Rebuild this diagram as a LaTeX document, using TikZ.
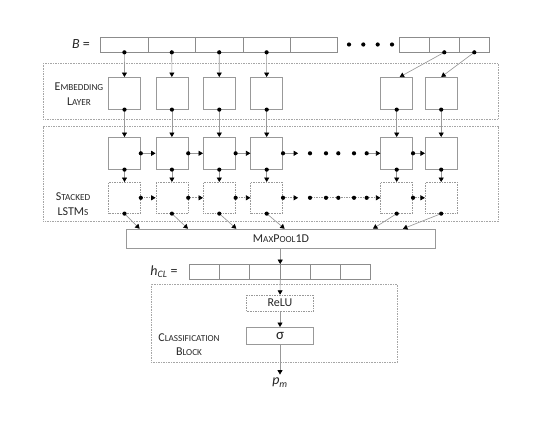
\documentclass[tikz,border=0pt]{standalone}
\usepackage{fontspec}
\setmainfont{Carlito}
\usetikzlibrary{positioning, calc, arrows.meta}
% fake small caps: capital, then smaller capitals
\newcommand{\fsc}[2]{#1{\fontsize{9.2}{14}\selectfont #2}}
\tikzset{
	cell/.style={draw=gray!90, rectangle, inner sep=0pt, minimum width=47.4pt, minimum height=15pt},
	tcell/.style={cell, minimum width=30.2pt},
	unitbox/.style={draw=gray!80, rectangle, inner sep=0pt, minimum width=32pt, minimum height=32pt},
	dunitbox/.style={unitbox, densely dotted, minimum height=31pt},
	block/.style={draw=gray!70, densely dotted, rectangle, inner sep=0pt},
	op/.style={draw=gray!80, rectangle, inner sep=0pt, minimum width=67pt, text=black!85, font=\fontsize{12}{14}\selectfont},
	bullet/.style={circle, fill=black, inner sep=0pt, minimum size=4.2pt},
	lab/.style={align=center, text=black!85, font=\fontsize{12}{14.5}\selectfont},
	link/.style={draw=gray!80, -{Triangle[width=5pt, length=4.4pt, color=black]}},
}

\begin{document}
\begin{tikzpicture}[x=1pt, y=-1pt, line width=0.65pt]
	\useasboundingbox (0,0) rectangle (538,444);
	
	% blocks behind
	\node (embblk) [block, minimum width=455pt, minimum height=55.7pt] at (270.8,91.2) {};
	\node (lstmblk) [block, minimum width=455pt, minimum height=95pt] at (270.8,174.2) {};
	\node (clsblk) [block, minimum width=246.3pt, minimum height=78.3pt] at (274.2,323.2) {};
	
	\node (embl) [lab] at (79,94) {\fsc{E}{MBEDDING}\\\fsc{L}{AYER}};
	\node (lstml) [lab] at (73,204) {\fsc{S}{TACKED}\\\fsc{LSTM}{S}};
	\node (clsl) [lab] at (189,344.7) {\fsc{C}{LASSIFICATION}\\\fsc{B}{LOCK}};
	
	% input sequence B
	\node (B) [lab, font=\fontsize{14}{16}\selectfont] at (81,44.5) {\textit{B} =};
	\begin{scope}[node distance=47.4pt]
		\node (b1) [cell] at (124.4,44.5) {};
		\node (b2) [cell, right of=b1] {};
		\node (b3) [cell, right of=b2] {};
		\node (b4) [cell, right of=b3] {};
		\node (b5) [cell, right of=b4] {};
	\end{scope}
	\node (q1) [bullet] at (349,44.5) {};
	\node (q2) [bullet] at (363.3,44.5) {};
	\node (q3) [bullet] at (377.7,44.5) {};
	\node (q4) [bullet] at (392,44.5) {};
	\begin{scope}[node distance=30pt]
		\node (t1) [tcell] at (414.3,44.5) {};
		\node (t2) [tcell, right of=t1] {};
		\node (t3) [tcell, right of=t2] {};
	\end{scope}
	
	% embedding layer
	\begin{scope}[node distance=47.4pt]
		\node (e1) [unitbox] at (124.5,93.3) {};
		\node (e2) [unitbox, right of=e1] {};
		\node (e3) [unitbox, right of=e2] {};
		\node (e4) [unitbox, right of=e3] {};
	\end{scope}
	\node (e5) [unitbox] at (396.7,93.3) {};
	\node (e6) [unitbox] at (441.2,93.3) {};
	
	% stacked LSTMs
	\begin{scope}[node distance=60pt]
		\node (l1) [unitbox, below of=e1] {};
		\node (l2) [unitbox, below of=e2] {};
		\node (l3) [unitbox, below of=e3] {};
		\node (l4) [unitbox, below of=e4] {};
		\node (l5) [unitbox, below of=e5] {};
		\node (l6) [unitbox, below of=e6] {};
	\end{scope}
	\begin{scope}[node distance=44.5pt]
		\node (m1) [dunitbox, below of=l1] {};
		\node (m2) [dunitbox, below of=l2] {};
		\node (m3) [dunitbox, below of=l3] {};
		\node (m4) [dunitbox, below of=l4] {};
		\node (m5) [dunitbox, below of=l5] {};
		\node (m6) [dunitbox, below of=l6] {};
	\end{scope}
	\node (d1) [bullet] at (310,153.3) {};
	\node (d2) [bullet] at (326,153.3) {};
	\node (d3) [bullet] at (338.3,153.3) {};
	\node (d4) [bullet] at (354,153.3) {};
	\node (d5) [bullet] at (366.7,153.3) {};
	\node (dd1) [bullet] at (310,197.8) {};
	\node (dd2) [bullet] at (326,197.8) {};
	\node (dd3) [bullet] at (338.3,197.8) {};
	\node (dd4) [bullet] at (354,197.8) {};
	\node (dd5) [bullet] at (366.7,197.8) {};
	
	\node (mp) [op, minimum width=309pt, minimum height=19.3pt] at (281,238.7) {\fsc{M}{AX}\fsc{P}{OOL}1D};
	
	% h_CL
	\node (hcl) [lab, font=\fontsize{14}{16}\selectfont] at (164,272) {\textit{h}\textsubscript{\textit{CL}} =};
	\begin{scope}[node distance=30.2pt]
		\node (h1) [tcell, minimum height=14.7pt] at (204.4,271.7) {};
		\node (h2) [tcell, minimum height=14.7pt, right of=h1] {};
		\node (h3) [tcell, minimum height=14.7pt, right of=h2] {};
		\node (h4) [tcell, minimum height=14.7pt, right of=h3] {};
		\node (h5) [tcell, minimum height=14.7pt, right of=h4] {};
		\node (h6) [tcell, minimum height=14.7pt, right of=h5] {};
	\end{scope}
	
	% classification block
	\node (relu) [op, densely dotted, minimum height=16pt] at (280,303) {ReLU};
	\node (sg) [op, minimum height=17pt, font=\fontsize{15}{16}\selectfont] at (280,335.8) {σ};
	\node (pm) [lab, font=\fontsize{14}{16}\selectfont] at (280,382.7) {\textit{p}\textsubscript{\textit{m}}};
	
	\begin{scope}[link]
		\draw (b1.south) -- (e1) node [bullet, at start] {};
		\draw (b2.south) -- (e2) node [bullet, at start] {};
		\draw (b3.south) -- (e3) node [bullet, at start] {};
		\draw (b4.south) -- (e4) node [bullet, at start] {};
		\draw (t2.south) -- ($(e5.north)+(3,0)$) node [bullet, at start] {};
		\draw (t3.south) -- (e6.north) node [bullet, at start] {};
		
		\draw (e1.south) -- (l1) node [bullet, at start] {};
		\draw (e2.south) -- (l2) node [bullet, at start] {};
		\draw (e3.south) -- (l3) node [bullet, at start] {};
		\draw (e4.south) -- (l4) node [bullet, at start] {};
		\draw (e5.south) -- (l5) node [bullet, at start] {};
		\draw (e6.south) -- (l6) node [bullet, at start] {};
		
		\draw (l1.south) -- (m1) node [bullet, at start] {};
		\draw (l2.south) -- (m2) node [bullet, at start] {};
		\draw (l3.south) -- (m3) node [bullet, at start] {};
		\draw (l4.south) -- (m4) node [bullet, at start] {};
		\draw (l5.south) -- (m5) node [bullet, at start] {};
		\draw (l6.south) -- (m6) node [bullet, at start] {};
		
		\draw (l1.east) -- (l2) node [bullet, at start] {};
		\draw (l2.east) -- (l3) node [bullet, at start] {};
		\draw (l3.east) -- (l4) node [bullet, at start] {};
		\draw [shorten >=9.5pt] (l4.east) -- (d1) node [bullet, at start] {};
		\draw (d5) -- (l5);
		\draw (l5.east) -- (l6) node [bullet, at start] {};
		
		\begin{scope}[densely dotted]
			\draw (m1.east) -- (m2) node [bullet, at start] {};
			\draw (m2.east) -- (m3) node [bullet, at start] {};
			\draw (m3.east) -- (m4) node [bullet, at start] {};
			\draw [shorten >=9.5pt] (m4.east) -- (dd1) node [bullet, at start] {};
			\draw [-] (dd1) -- (dd2) -- (dd3) -- (dd4) -- (dd5);
			\draw (dd5) -- (m5);
			\draw (m5.east) -- (m6) node [bullet, at start] {};
		\end{scope}
		
		\draw (m1.south) -- ($(mp.north west)+(13.5,0)$) node [bullet, at start] {};
		\draw (m2.south) -- ($(mp.north west)+(61.8,0)$) node [bullet, at start] {};
		\draw (m3.south) -- ($(mp.north west)+(110.2,0)$) node [bullet, at start] {};
		\draw (m4.south) -- ($(mp.north west)+(158.5,0)$) node [bullet, at start] {};
		\draw (m5.south) -- ($(mp.north west)+(246.8,0)$) node [bullet, at start] {};
		\draw (m6.south) -- ($(mp.north west)+(276.8,0)$) node [bullet, at start] {};
		
		\draw (h3.north east |- mp.south) -- (h3.north east);
		\draw (h3.south east) -- (relu);
		\draw (relu) -- (sg);
		\draw (sg) -- (pm);
	\end{scope}
\end{tikzpicture}
\end{document}
